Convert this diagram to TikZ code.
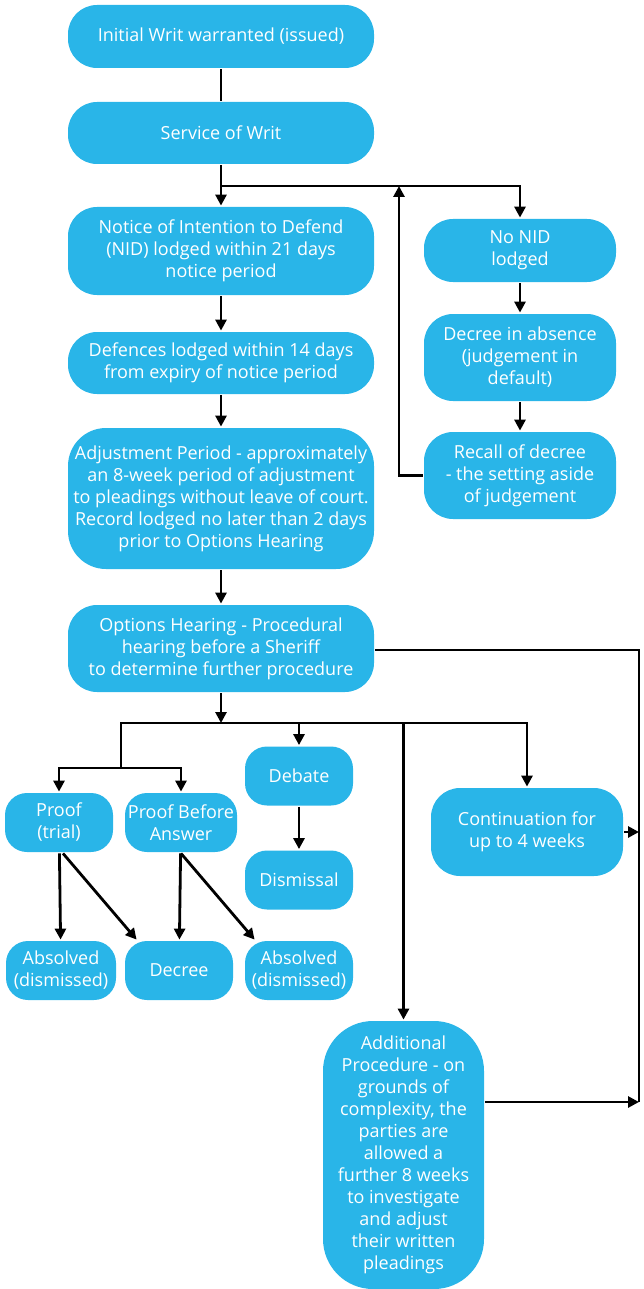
\documentclass[tikz,border=0pt]{standalone}
\usepackage{fontspec}
\setmainfont{Open Sans}
\usetikzlibrary{arrows.meta}
\definecolor{boxblue}{RGB}{41,181,232}
\tikzset{
  box/.style={rectangle, rounded corners=29pt, fill=boxblue, text=white,
    align=center, inner sep=0pt, font=\fontsize{18}{22}\selectfont},
  widebox/.style={box, minimum width=306pt},
  sidebox/.style={box, minimum width=192pt},
  smallbox/.style={box, minimum width=108pt, minimum height=59pt, rounded corners=22pt},
  arr/.style={-{Triangle[length=11pt,width=11pt]}},
}
\begin{document}
\begin{tikzpicture}[x=1pt,y=-1pt,line width=2.8pt]
      \useasboundingbox (0,0) rectangle (643,1289);
      % main column
      \node[widebox, minimum height=63pt] (init) at (221,36.5) {Initial Writ warranted (issued)};
      \node[widebox, minimum height=62pt] (serv) at (221,133) {Service of Writ};
      \node[widebox, minimum height=88pt] (nid) at (221,251) {Notice of Intention to Defend\\(NID) lodged within 21 days\\notice period};
      \node[widebox, minimum height=62pt] (def) at (221,363) {Defences lodged within 14 days\\from expiry of notice period};
      \node[widebox, minimum height=141pt, rounded corners=38pt] (adj) at (221,498.5) {Adjustment Period - approximately\\an 8-week period of adjustment\\to pleadings without leave of court.\\Record lodged no later than 2 days\\prior to Options Hearing};
      \node[widebox, minimum height=87pt] (opt) at (221,648.5) {Options Hearing - Procedural\\hearing before a Sheriff\\to determine further procedure};
      % no NID branch
      \node[sidebox, minimum height=63pt] (nonid) at (520,250.5) {No NID\\lodged};
      \node[sidebox, minimum height=87pt] (absence) at (520,357.5) {Decree in absence\\(judgement in\\default)};
      \node[sidebox, minimum height=87pt] (recall) at (520,475.5) {Recall of decree\\- the setting aside\\of judgement};
      % options
      \node[smallbox] (proof) at (59,822.5) {Proof\\(trial)};
      \node[smallbox, minimum width=112pt] (pba) at (181,822.5) {Proof Before\\Answer};
      \node[smallbox] (debate) at (299,776) {Debate};
      \node[smallbox] (dismissal) at (299,880) {Dismissal};
      \node[smallbox, minimum width=110pt] (absolvedA) at (61,970.5) {Absolved\\(dismissed)};
      \node[smallbox] (decree) at (179,970.5) {Decree};
      \node[smallbox] (absolvedB) at (299,970.5) {Absolved\\(dismissed)};
      \node[sidebox, minimum height=88pt] (cont) at (527,832) {Continuation for\\up to 4 weeks};
      \node[box, minimum width=161pt, minimum height=268pt, rounded corners=50pt] (addl) at (403.5,1155) {Additional\\Procedure - on\\grounds of\\complexity, the\\parties are\\allowed a\\further 8 weeks\\to investigate\\and adjust\\their written\\pleadings};
      % junctions
      \coordinate (split1) at (221,186);
      \coordinate (back) at (399,186);
      \coordinate (split2) at (221,723);
      \coordinate (proofsplit) at (121,768);
      \coordinate (railtop) at (639,650);
      \coordinate (railbot) at (639,1102);
      % connectors
      \draw (init) -- (serv);
      \draw (serv) -- (split1);
      \draw[arr] (split1) -- (nid);
      \draw[arr] (split1) -| (nonid);
      \draw[arr] (recall.west) -| (back);
      \draw[arr] (nonid) -- (absence);
      \draw[arr] (absence) -- (recall);
      \draw[arr] (nid) -- (def);
      \draw[arr] (def) -- (adj);
      \draw[arr] (adj) -- (opt);
      \draw[arr] (opt) -- (split2);
      \draw (split2) -| (proofsplit);
      \draw[arr] (proofsplit) -| (proof);
      \draw[arr] (proofsplit) -| (pba);
      \draw[arr] (split2) -| (debate);
      \draw[arr] (split2) -| (addl);
      \draw[arr] (split2) -| (cont);
      \draw[arr] (debate) -- (dismissal);
      \draw[arr] (proof) -- (absolvedA);
      \draw[arr] ([xshift=4pt]proof.south) -- ([xshift=13pt]decree.north west);
      \draw[arr] (pba) -- (decree);
      \draw[arr] ([xshift=0pt]pba.south) -- ([xshift=11pt]absolvedB.north west);
      \draw (opt.east |- railtop) -- (railtop) -- (railbot);
      \draw[arr] (cont.east) -- (cont.east -| railtop);
      \draw[arr] (addl.east |- railbot) -- (railbot);
\end{tikzpicture}
\end{document}
